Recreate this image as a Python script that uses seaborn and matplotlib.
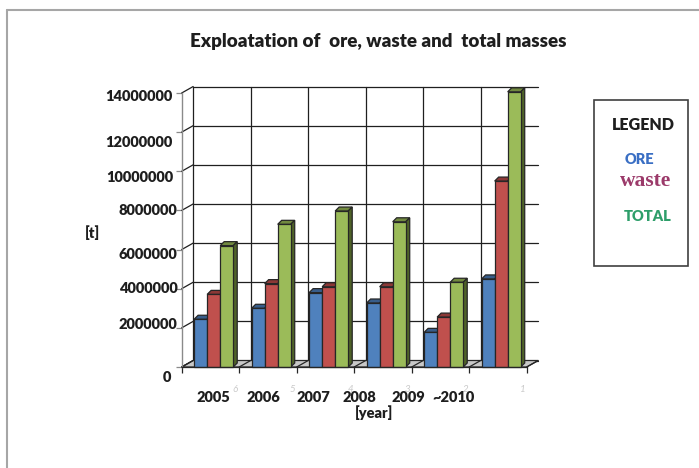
import numpy as np
import pandas as pd
import matplotlib
matplotlib.use("Agg")
import matplotlib.pyplot as plt
import seaborn as sns
from matplotlib.patches import Polygon, Rectangle
from matplotlib.lines import Line2D
from matplotlib.transforms import offset_copy, blended_transform_factory

# ---- data -------------------------------------------------------------
years = ["2005", "2006", "2007", "2008", "2009", "~2010"]
series = ["ORE", "waste", "TOTAL"]
ore = [2440000, 3000000, 3800000, 3270000, 1770000, 4500000]
waste = [3710000, 4260000, 4100000, 4100000, 2550000, 9500000]
total = [6200000, 7290000, 7970000, 7420000, 4330000, 14060000]
y_ticks = [0, 2000000, 4000000, 6000000, 8000000, 10000000, 12000000, 14000000]
y_tick_labels = [str(v) for v in y_ticks]
index_labels = ["6", "5", "4", "3", "2", "1"]

# ---- styling ----------------------------------------------------------
front_colors = ["#4F81BD", "#C0504D", "#9BBB59"]
top_colors = ["#385D8A", "#8C3836", "#71893F"]
side_colors = ["#2C4D75", "#772C2A", "#4F6228"]
edge = "#262626"
txt = "#1E1E1E"
bold = "heavy"
# per-label nudges of the value labels (pixels: right, down)
ytick_dx = [-11, -4.4, -4.4, -4.4, -4.4, -8.7, -8.7, -8.7]
ytick_dy = [11, -3, 0, 5, 0, 6, 10, 3]
# year label positions on the category axis
year_pos = [0.044, 0.914, 1.783, 2.583, 3.435, 4.235]
wall_depth_px = (11.5, 6.5)
bar_depth_px = (4.0, 4.0)
bar_shift = 0.056

sns.set_theme(style="white")
plt.rcParams["font.family"] = ["Lato", "DejaVu Sans"]

W, H = 699, 468
fig = plt.figure(figsize=(W / 100, H / 100), dpi=100)
fig.patch.set_facecolor("white")
ax = fig.add_axes([181.7 / W, 101 / H, 345 / W, 274 / H])
ax.set_facecolor("none")

df = pd.DataFrame({
    "year": years * 3,
    "series": np.repeat(series, len(years)),
    "mass": ore + waste + total,
})

sns.barplot(data=df, x="year", y="mass", hue="series", order=years,
            hue_order=series, palette=dict(zip(series, front_colors)),
            width=0.68, saturation=1, edgecolor=edge, linewidth=0.9,
            errorbar=None, legend=False, ax=ax)

ax.set_xlim(-0.5, len(years) - 0.5)
ax.set_ylim(0, 14000000)


def px_to_data(dx, dy):
    x0, y0 = ax.transData.transform((0, 0))
    x1, y1 = ax.transData.inverted().transform((x0 + dx, y0 + dy))
    return x1, y1


wdx, wdy = px_to_data(*wall_depth_px)
bdx, bdy = px_to_data(*bar_depth_px)
x_lo, x_hi = -0.5, len(years) - 0.5
bounds = np.arange(len(years) + 1) - 0.5

# back wall grid
grid_kw = dict(color="#1f1f1f", lw=0.9, zorder=1, clip_on=False)
for v in y_ticks:
    ax.add_line(Line2D([x_lo + wdx, x_hi + wdx], [v + wdy, v + wdy], **grid_kw))
    ax.add_line(Line2D([x_lo, x_lo + wdx], [v, v + wdy], **grid_kw))
for b in bounds[:-1]:
    ax.add_line(Line2D([b + wdx, b + wdx], [wdy, y_ticks[-1] + wdy], **grid_kw))

# floor
ax.add_patch(Polygon([(x_lo, 0), (x_hi, 0), (x_hi + wdx, wdy), (x_lo + wdx, wdy)],
                     closed=True, facecolor="#C8C8C8", edgecolor=edge, lw=0.9,
                     zorder=1.5, clip_on=False))
for b in bounds:
    ax.add_line(Line2D([b, b + wdx], [0, wdy], color=edge, lw=0.9,
                       zorder=1.6, clip_on=False))

# bars: shift, then add top and side faces
for k, cont in enumerate(ax.containers):
    for p in cont.patches:
        p.set_x(p.get_x() + bar_shift)
        x, w, h = p.get_x(), p.get_width(), p.get_height()
        z = 2 + 0.3 * k
        p.set_zorder(z + 0.1)
        p.set_clip_on(False)
        ax.add_patch(Polygon([(x, h), (x + w, h), (x + w + bdx, h + bdy), (x + bdx, h + bdy)],
                             closed=True, facecolor=top_colors[k], edgecolor=edge,
                             lw=0.9, zorder=z, clip_on=False))
        ax.add_patch(Polygon([(x + w, 0), (x + w + bdx, bdy), (x + w + bdx, h + bdy), (x + w, h)],
                             closed=True, facecolor=side_colors[k], edgecolor=edge,
                             lw=0.9, zorder=z, clip_on=False))

# axes frame
for s in ["top", "right"]:
    ax.spines[s].set_visible(False)
ax.spines["left"].set_color("#8A8A8A")
ax.spines["left"].set_linewidth(1.0)
ax.spines["bottom"].set_color(edge)
ax.spines["bottom"].set_linewidth(0.9)
ax.spines["bottom"].set_zorder(5)
ax.set_yticks(y_ticks, labels=[""] * len(y_ticks))
ax.set_xticks(bounds, labels=[""] * len(bounds))
ax.tick_params(axis="y", length=4, width=0.9, color="#8A8A8A", left=True)
ax.tick_params(axis="x", length=4, width=0.9, color=edge, bottom=True, direction="out")
ax.set_xlabel("")
ax.set_ylabel("")

# value labels
for v, lab, dx, dy in zip(y_ticks, y_tick_labels, ytick_dx, ytick_dy):
    tr = offset_copy(ax.transData, fig=fig, x=dx, y=-dy, units="dots")
    ax.text(x_lo, v, lab, transform=tr, ha="right", va="center",
            fontsize=10.5, fontweight=bold, color=txt, clip_on=False)

# category labels (faint index digits sit behind the year labels)
blend = blended_transform_factory(ax.transData, ax.transAxes)
for i, lab in enumerate(index_labels):
    tr = offset_copy(blend, fig=fig, x=0, y=-23, units="dots")
    ax.text(i + 0.43, 0, lab, transform=tr, ha="center", va="center",
            fontsize=7, fontstyle="italic", color="#CACACA", clip_on=False,
            zorder=0)
for xp, lab in zip(year_pos, years):
    tr = offset_copy(blend, fig=fig, x=0, y=-30, units="dots")
    ax.text(xp, 0, lab, transform=tr, ha="center", va="center",
            fontsize=10.5, fontweight=bold, color=txt, clip_on=False)

# axis titles
fig.text(374.5 / W, 1 - 413 / H, "[year]", ha="center", va="center",
         fontsize=10.5, fontweight=bold, color=txt)
fig.text(92 / W, 1 - 233 / H, "[t]", ha="center", va="center",
         fontsize=10.5, fontweight=bold, color=txt)

# title
fig.text(378 / W, 1 - 42 / H, "Exploatation of  ore, waste and  total masses",
         ha="center", va="center", fontsize=13.5, fontweight=bold, color=txt)

# legend box
fig.add_artist(Rectangle((594 / W, 1 - 266 / H), 94 / W, 166 / H,
                         transform=fig.transFigure, facecolor="white",
                         edgecolor="#404040", lw=1.2))
fig.text(643.3 / W, 1 - 125 / H, "LEGEND", ha="center", va="center",
         fontsize=11.5, fontweight=bold, color=txt)
fig.text(639 / W, 1 - 160 / H, "ORE", ha="center", va="center",
         fontsize=10.5, fontweight=bold, color="#3A6FC4")
fig.text(646 / W, 1 - 181 / H, "waste", ha="center", va="center",
         fontsize=15.5, fontweight="bold", color="#9B3A6A",
         family=["Liberation Serif", "DejaVu Serif"])
fig.text(647.5 / W, 1 - 216.7 / H, "TOTAL", ha="center", va="center",
         fontsize=10.5, fontweight=bold, color="#2E9E6A")

# page frame
frame_kw = dict(color="#A6A6A6", lw=1.5, transform=fig.transFigure)
fig.add_artist(Line2D([7 / W, 1], [1 - 10 / H, 1 - 10 / H], **frame_kw))
fig.add_artist(Line2D([7 / W, 7 / W], [1 - 10 / H, 0], **frame_kw))

fig.savefig("out.png", dpi=100, facecolor="white")
